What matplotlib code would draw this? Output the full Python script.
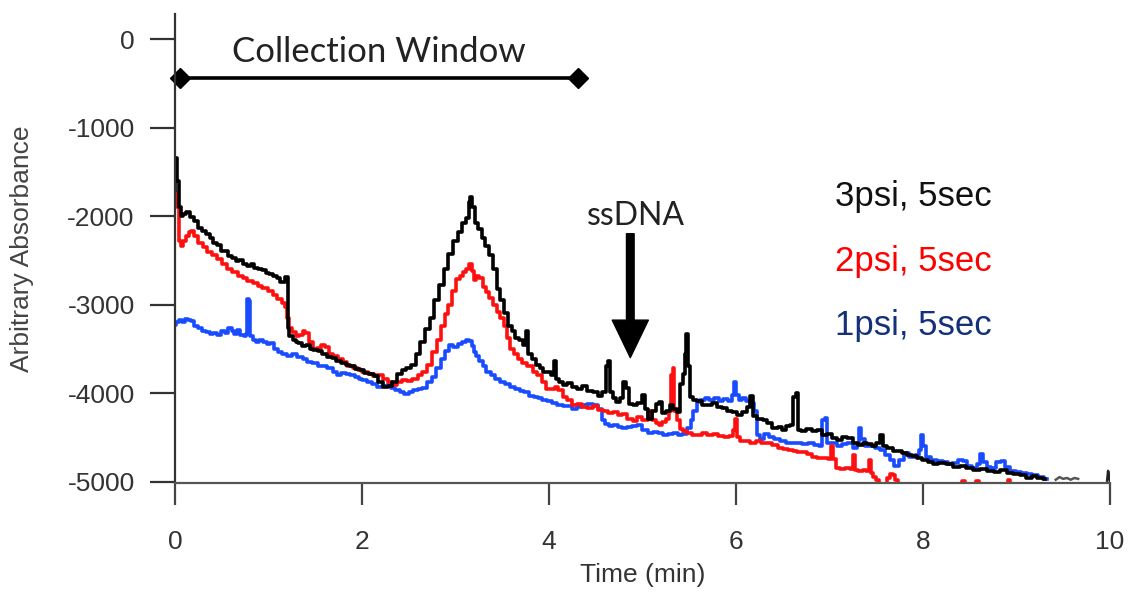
import matplotlib
matplotlib.use('Agg')
import matplotlib.pyplot as plt

plt.rcParams['font.family'] = ['Liberation Sans', 'DejaVu Sans']
plt.rcParams['axes.unicode_minus'] = False

# 3psi, 5sec run
t_3psi = [0.00, 0.01, 0.03, 0.05, 0.07, 0.10, 0.14, 0.18, 0.22, 0.27, 0.31, 0.35, 0.39, 0.43, 0.47,
          0.51, 0.55, 0.59, 0.63, 0.67, 0.71, 0.75, 0.79, 0.83, 0.87, 0.91, 0.95, 0.99, 1.03, 1.07,
          1.11, 1.14, 1.17, 1.19, 1.20, 1.21, 1.24, 1.28, 1.30, 1.34, 1.38, 1.42, 1.46, 1.50, 1.55,
          1.60, 1.65, 1.70, 1.75, 1.80, 1.85, 1.90, 1.95, 2.00, 2.05, 2.10, 2.15, 2.20, 2.25, 2.30,
          2.35, 2.40, 2.45, 2.50, 2.55, 2.60, 2.65, 2.70, 2.75, 2.80, 2.85, 2.90, 2.95, 3.00, 3.05,
          3.10, 3.13, 3.15, 3.17, 3.19, 3.22, 3.26, 3.30, 3.34, 3.38, 3.42, 3.46, 3.50, 3.54, 3.58,
          3.62, 3.66, 3.70, 3.74, 3.77, 3.79, 3.84, 3.88, 3.92, 3.96, 4.00, 4.04, 4.06, 4.09, 4.13,
          4.17, 4.22, 4.28, 4.33, 4.38, 4.44, 4.50, 4.55, 4.59, 4.62, 4.64, 4.66, 4.70, 4.74, 4.78,
          4.81, 4.84, 4.87, 4.92, 4.97, 5.01, 5.04, 5.08, 5.12, 5.16, 5.19, 5.23, 5.27, 5.31, 5.35,
          5.39, 5.42, 5.44, 5.46, 5.48, 5.50, 5.52, 5.56, 5.61, 5.66, 5.72, 5.77, 5.82, 5.88, 5.93,
          5.98, 6.04, 6.09, 6.14, 6.17, 6.20, 6.26, 6.31, 6.36, 6.42, 6.47, 6.52, 6.56, 6.60, 6.63,
          6.65, 6.67, 6.72, 6.78, 6.84, 6.90, 6.95, 7.00, 7.06, 7.11, 7.16, 7.22, 7.28, 7.33, 7.38,
          7.43, 7.48, 7.52, 7.56, 7.59, 7.65, 7.70, 7.75, 7.80, 7.86, 7.91, 7.96, 8.02, 8.08, 8.13,
          8.20, 8.29, 8.36, 8.43, 8.50, 8.57, 8.64, 8.72, 8.79, 8.86, 8.93, 9.00, 9.07, 9.14, 9.20,
          9.25, 9.31]
v_3psi = [-1700, -1340, -1600, -1900, -2000, -1980, -1950, -2010, -2060, -2130, -2170, -2200, -2250, -2300, -2330,
          -2390, -2400, -2450, -2470, -2510, -2500, -2540, -2560, -2545, -2590, -2600, -2615, -2640, -2660, -2680,
          -2700, -2750, -2740, -2690, -2690, -3270, -3350, -3400, -3420, -3440, -3470, -3460, -3500, -3510, -3530,
          -3560, -3590, -3600, -3640, -3660, -3680, -3700, -3730, -3740, -3770, -3790, -3810, -3880, -3930, -3920,
          -3880, -3780, -3740, -3720, -3680, -3560, -3420, -3280, -3150, -2950, -2780, -2600, -2430, -2280, -2180,
          -2080, -2020, -1840, -1790, -1900, -2080, -2150, -2250, -2340, -2440, -2600, -2820, -2950, -3100, -3240,
          -3300, -3380, -3400, -3460, -3300, -3560, -3620, -3680, -3720, -3760, -3760, -3800, -3640, -3840, -3880,
          -3910, -3890, -3930, -3950, -3920, -3980, -3990, -4030, -3990, -3700, -3640, -3990, -4060, -4100, -4060,
          -3880, -3940, -4120, -4140, -4110, -4020, -4180, -4290, -4200, -4120, -4100, -4230, -4200, -4140, -4180,
          -4210, -3900, -3780, -3560, -3330, -3700, -4050, -4080, -4090, -4130, -4140, -4110, -4160, -4170, -4200,
          -4210, -4250, -4220, -4160, -4030, -4260, -4290, -4310, -4340, -4400, -4380, -4420, -4370, -4360, -4040,
          -4000, -4420, -4430, -4410, -4430, -4420, -4480, -4460, -4510, -4530, -4500, -4510, -4560, -4590, -4570,
          -4580, -4600, -4560, -4480, -4600, -4620, -4650, -4660, -4680, -4700, -4710, -4730, -4760, -4780, -4800,
          -4790, -4800, -4840, -4820, -4850, -4870, -4860, -4880, -4890, -4870, -4900, -4920, -4930, -4960, -4940,
          -4960, -4970]

# faint tail of the 3psi trace
t_tail = [9.42, 9.46, 9.50, 9.54, 9.58, 9.62, 9.66]
v_tail = [-4980, -4950, -4970, -4960, -4980, -4960, -4970]
t_end = [9.97, 9.98, 9.99, 10.00]
v_end = [-4990, -4880, -4930, -4990]

# 2psi, 5sec run
t_2psi = [0.00, 0.01, 0.03, 0.05, 0.07, 0.10, 0.13, 0.16, 0.19, 0.22, 0.27, 0.32, 0.37, 0.42, 0.48,
          0.53, 0.59, 0.64, 0.70, 0.75, 0.80, 0.86, 0.91, 0.96, 1.02, 1.07, 1.12, 1.16, 1.19, 1.21,
          1.23, 1.27, 1.31, 1.35, 1.38, 1.41, 1.45, 1.50, 1.54, 1.58, 1.62, 1.67, 1.72, 1.77, 1.82,
          1.87, 1.93, 1.98, 2.03, 2.09, 2.14, 2.19, 2.25, 2.30, 2.35, 2.40, 2.46, 2.51, 2.57, 2.62,
          2.67, 2.72, 2.78, 2.83, 2.87, 2.91, 2.94, 2.98, 3.03, 3.07, 3.10, 3.13, 3.16, 3.19, 3.21,
          3.24, 3.27, 3.31, 3.34, 3.38, 3.42, 3.46, 3.50, 3.53, 3.57, 3.60, 3.65, 3.69, 3.74, 3.80,
          3.85, 3.90, 3.95, 3.99, 4.04, 4.08, 4.12, 4.17, 4.22, 4.28, 4.33, 4.38, 4.44, 4.50, 4.55,
          4.60, 4.66, 4.71, 4.76, 4.81, 4.87, 4.92, 4.97, 5.03, 5.08, 5.12, 5.16, 5.19, 5.23, 5.27,
          5.30, 5.32, 5.33, 5.35, 5.38, 5.42, 5.45, 5.50, 5.55, 5.61, 5.66, 5.72, 5.78, 5.84, 5.90,
          5.95, 5.98, 6.00, 6.02, 6.06, 6.12, 6.18, 6.24, 6.30, 6.36, 6.42, 6.47, 6.53, 6.58, 6.63,
          6.68, 6.74, 6.79, 6.84, 6.90, 6.96, 7.01, 7.03, 7.05, 7.08, 7.14, 7.20, 7.24, 7.26, 7.28,
          7.33, 7.38, 7.41, 7.43, 7.45, 7.48, 7.51, 7.55, 7.60, 7.63, 7.66, 7.69, 7.72, 7.75, 8.30,
          8.40, 8.43, 8.46, 8.55, 8.58, 8.61, 8.80, 8.89, 8.92, 8.95, 9.10]
v_2psi = [-1760, -1740, -1900, -2280, -2340, -2280, -2220, -2180, -2170, -2230, -2300, -2350, -2410, -2440, -2490,
          -2540, -2600, -2630, -2680, -2700, -2730, -2760, -2790, -2810, -2850, -2890, -2940, -2980, -3030, -3150,
          -3270, -3310, -3350, -3340, -3300, -3320, -3420, -3500, -3490, -3460, -3480, -3560, -3580, -3620, -3650,
          -3690, -3720, -3740, -3760, -3780, -3810, -3800, -3840, -3880, -3910, -3880, -3850, -3860, -3840, -3800,
          -3760, -3680, -3540, -3400, -3240, -3110, -3010, -2850, -2710, -2680, -2630, -2600, -2540, -2620, -2720,
          -2680, -2700, -2800, -2860, -2930, -3010, -3080, -3150, -3240, -3380, -3500, -3560, -3610, -3660, -3700,
          -3760, -3800, -3880, -3950, -3960, -3930, -3970, -4050, -4080, -4140, -4120, -4160, -4170, -4150, -4190,
          -4200, -4230, -4210, -4250, -4240, -4290, -4320, -4270, -4300, -4200, -4310, -4340, -4360, -4330, -4290,
          -4200, -3800, -3720, -4200, -4300, -4410, -4430, -4450, -4470, -4480, -4450, -4470, -4460, -4490, -4500,
          -4490, -4420, -4290, -4500, -4540, -4540, -4560, -4540, -4560, -4570, -4590, -4620, -4630, -4640, -4650,
          -4670, -4670, -4690, -4720, -4730, -4730, -4740, -4600, -4740, -4850, -4860, -4850, -4860, -4700, -4870,
          -4880, -4870, -4880, -4760, -4900, -4950, -4980, -5060, -5060, -4960, -4920, -4930, -4980, -5060, -5080,
          -5040, -4990, -5040, -5060, -4990, -5050, -5070, -5040, -4980, -5040, -5080]

# 1psi, 5sec run
t_1psi = [0.00, 0.03, 0.06, 0.09, 0.12, 0.16, 0.19, 0.22, 0.27, 0.31, 0.35, 0.39, 0.43, 0.47, 0.51,
          0.55, 0.59, 0.62, 0.65, 0.68, 0.72, 0.75, 0.77, 0.78, 0.80, 0.81, 0.85, 0.88, 0.92, 0.96,
          1.00, 1.04, 1.08, 1.12, 1.17, 1.23, 1.28, 1.34, 1.39, 1.44, 1.50, 1.55, 1.60, 1.66, 1.71,
          1.76, 1.80, 1.85, 1.90, 1.95, 1.98, 2.03, 2.08, 2.14, 2.19, 2.24, 2.29, 2.33, 2.38, 2.43,
          2.48, 2.52, 2.57, 2.62, 2.67, 2.72, 2.77, 2.82, 2.87, 2.91, 2.95, 3.00, 3.05, 3.09, 3.13,
          3.16, 3.19, 3.21, 3.24, 3.27, 3.31, 3.35, 3.40, 3.45, 3.51, 3.56, 3.61, 3.66, 3.71, 3.76,
          3.81, 3.86, 3.90, 3.95, 4.01, 4.06, 4.12, 4.17, 4.22, 4.28, 4.33, 4.38, 4.44, 4.50, 4.55,
          4.58, 4.62, 4.67, 4.71, 4.76, 4.81, 4.86, 4.92, 4.97, 5.03, 5.08, 5.14, 5.19, 5.24, 5.30,
          5.35, 5.40, 5.45, 5.50, 5.53, 5.56, 5.60, 5.64, 5.69, 5.74, 5.79, 5.84, 5.89, 5.94, 5.97,
          5.99, 6.01, 6.05, 6.09, 6.13, 6.17, 6.21, 6.24, 6.28, 6.33, 6.38, 6.44, 6.50, 6.56, 6.62,
          6.68, 6.74, 6.80, 6.86, 6.91, 6.94, 6.96, 6.99, 7.05, 7.11, 7.16, 7.22, 7.28, 7.31, 7.33,
          7.35, 7.40, 7.46, 7.52, 7.57, 7.62, 7.67, 7.72, 7.77, 7.83, 7.88, 7.94, 7.97, 7.99, 8.01,
          8.06, 8.12, 8.18, 8.24, 8.29, 8.34, 8.40, 8.45, 8.50, 8.55, 8.60, 8.63, 8.66, 8.70, 8.76,
          8.81, 8.85, 8.90, 8.96, 9.02, 9.08, 9.14, 9.20, 9.26, 9.33]
v_1psi = [-3230, -3200, -3170, -3200, -3160, -3170, -3190, -3240, -3270, -3300, -3310, -3330, -3320, -3340, -3300,
          -3320, -3270, -3300, -3330, -3290, -3340, -3350, -3330, -2940, -2960, -3350, -3400, -3420, -3400, -3420,
          -3450, -3430, -3500, -3540, -3560, -3580, -3560, -3590, -3620, -3650, -3660, -3690, -3700, -3720, -3760,
          -3800, -3770, -3780, -3800, -3820, -3840, -3850, -3880, -3900, -3930, -3920, -3910, -3940, -3970, -3990,
          -4010, -3990, -3970, -3950, -3940, -3870, -3820, -3720, -3610, -3520, -3460, -3480, -3450, -3420, -3400,
          -3410, -3470, -3540, -3580, -3640, -3700, -3760, -3800, -3840, -3880, -3900, -3930, -3960, -3980, -3990,
          -4030, -4040, -4060, -4080, -4090, -4110, -4140, -4150, -4150, -4180, -4160, -4140, -4120, -4140, -4180,
          -4300, -4350, -4370, -4360, -4380, -4400, -4380, -4370, -4360, -4420, -4450, -4440, -4450, -4470, -4460,
          -4450, -4480, -4460, -4400, -4300, -4200, -4100, -4080, -4060, -4080, -4060, -4090, -4070, -4090, -4020,
          -3880, -4020, -4080, -4060, -4090, -4110, -4200, -4480, -4520, -4460, -4500, -4520, -4540, -4560, -4560,
          -4560, -4580, -4570, -4590, -4600, -4300, -4280, -4560, -4570, -4600, -4580, -4560, -4620, -4580, -4400,
          -4520, -4600, -4600, -4620, -4640, -4700, -4760, -4830, -4760, -4680, -4720, -4700, -4640, -4480, -4600,
          -4720, -4760, -4770, -4780, -4800, -4790, -4760, -4770, -4830, -4850, -4800, -4690, -4780, -4840, -4850,
          -4780, -4770, -4840, -4880, -4890, -4900, -4920, -4930, -4950, -4970]

# collection window bracket and ssDNA marker
window_start, window_end, window_level = 0.05, 4.31, -440
ssdna_t, ssdna_top, ssdna_tip = 4.87, -2200, -3600

labels = ['3psi, 5sec', '2psi, 5sec', '1psi, 5sec']
label_colors = ['#111111', '#ff0000', '#15307a']
label_levels = [-1780, -2510, -3240]

fig = plt.figure(figsize=(11.28, 5.92), dpi=100)
ax = fig.add_axes([0.1551, 0.1841, 0.8289, 0.7922])

ax.plot(t_1psi, v_1psi, color='#1a4cff', lw=2.6, drawstyle='steps-mid')
ax.plot(t_2psi, v_2psi, color='#ff1010', lw=2.6, drawstyle='steps-mid')
ax.plot(t_3psi, v_3psi, color='black', lw=2.6, drawstyle='steps-mid')
ax.plot(t_tail, v_tail, color='#555555', lw=1.8)
ax.plot(t_end, v_end, color='#222222', lw=1.8)

ax.set_xlim(0, 10)
ax.set_ylim(-5017, 283)
ax.set_xticks([0, 2, 4, 6, 8, 10])
ax.set_yticks([0, -1000, -2000, -3000, -4000, -5000])

for s in ['top', 'right']:
    ax.spines[s].set_visible(False)
ax.spines['left'].set_color('#333333')
ax.spines['bottom'].set_color('#555555')
ax.spines['left'].set_linewidth(1.6)
ax.spines['bottom'].set_linewidth(1.6)

ax.tick_params(axis='y', direction='out', length=18, width=1.6, color='#333333',
               labelsize=19, labelcolor='#333333', pad=11)
ax.tick_params(axis='x', direction='out', length=16, width=1.6, color='#444444',
               labelsize=19, labelcolor='#333333', pad=18)

ax.set_xlabel('Time (min)', fontsize=19, color='#333333', labelpad=6)
ax.set_ylabel('Arbitrary Absorbance', fontsize=19, color='#444444', labelpad=24)

# collection window
ax.plot([window_start, window_end], [window_level, window_level], color='black', lw=2.6,
        marker='D', markersize=10, clip_on=False)
ax.text((window_start + window_end) / 2, -150, 'Collection Window', family=['Lato', 'DejaVu Sans'],
        fontsize=25, color='#222222', ha='center', va='center')

# ssDNA arrow
ax.annotate('', xy=(ssdna_t, ssdna_tip), xytext=(ssdna_t, ssdna_top),
            arrowprops=dict(facecolor='black', edgecolor='black', width=5.5, headwidth=26, headlength=27, shrink=0))
ax.text(4.93, -2000, 'ssDNA', family=['Lato', 'DejaVu Sans'], fontsize=23, color='#222222',
        ha='center', va='center')

# run labels
for lab, c, lvl in zip(labels, label_colors, label_levels):
    ax.text(7.06, lvl, lab, fontsize=25, color=c, ha='left', va='center')

# faint repeat of the axis title, cut by the lower edge
fig.text(0.57, -0.022, 'Time (min)', fontsize=19, color='#c4c4c4', ha='center', va='center')

fig.savefig('out.png', dpi=100)
